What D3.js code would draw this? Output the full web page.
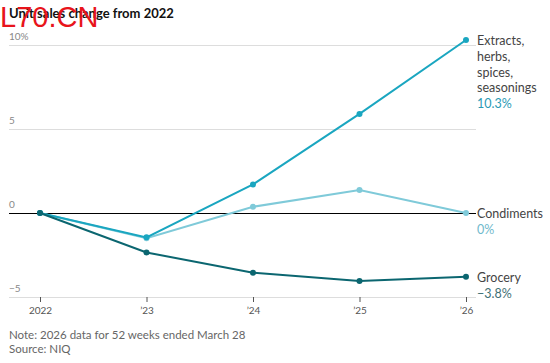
<!DOCTYPE html>
<html><head><meta charset="utf-8">
<script src="https://cdn.jsdelivr.net/npm/d3@7"></script>
<style>body{margin:0;background:#fff}svg{display:block}text{font-family:Lato,"Open Sans",sans-serif}</style>
</head><body><svg id="c" width="550" height="363"></svg>
<script>
const years = [2022, 2023, 2024, 2025, 2026];
const xTickLabels = ["2022", "\u201923", "\u201924", "\u201925", "\u201926"];
const yTicks = [10, 5, 0, -5];
const yTickLabels = ["10%", "5", "0", "\u22125"];
const extracts = [0, -1.45, 1.7, 5.9, 10.3];
const condiments = [0, -1.5, 0.37, 1.37, 0];
const grocery = [0, -2.35, -3.55, -4.05, -3.8];
const seriesNames = [["Extracts,", "herbs,", "spices,", "seasonings"], ["Condiments"], ["Grocery"]];
const seriesValueLabels = ["10.3%", "0%", "\u22123.8%"];

const colors = ["#1aa6c0", "#7fcad9", "#0b6670"];
const valueColors = ["#2a9ab5", "#6fb9cc", "#3f6f75"];
const svg = d3.select("#c");
const x = d3.scalePoint().domain(years).range([40, 466]);
const y = d3.scaleLinear().domain([-5, 10]).range([297, 45]);

// gridlines
svg.append("g").selectAll("line").data(yTicks.filter(d => d !== 0)).join("line")
  .attr("x1", 9).attr("x2", 476).attr("y1", d => y(d) + 0.5).attr("y2", d => y(d) + 0.5)
  .attr("stroke", "#ddd").attr("stroke-width", 1);
svg.append("g").selectAll("text").data(yTicks).join("text")
  .attr("x", 9).attr("y", d => y(d) - 5)
  .attr("font-size", 10).attr("fill", "#888")
  .text((d, i) => yTickLabels[i]);

// x axis
const xAxis = d3.axisBottom(x).tickSize(5).tickFormat((d, i) => xTickLabels[i]);
const gx = svg.append("g").attr("transform", `translate(0,${y(-5)})`).call(xAxis);
gx.select(".domain").remove();
gx.selectAll(".tick line").attr("stroke", "#555");
gx.selectAll(".tick text").attr("font-size", 10).attr("fill", "#555").attr("dy", "0.9em")
  .style("font-family", "Lato, sans-serif");

// zero line
svg.append("line").attr("x1", 9).attr("x2", 476).attr("y1", y(0) + 0.5).attr("y2", y(0) + 0.5)
  .attr("stroke", "#000").attr("stroke-width", 1).attr("shape-rendering", "crispEdges");

const allSeries = [extracts, condiments, grocery];
const line = d3.line().x((d, i) => x(years[i])).y(d => y(d));
[1, 0, 2].forEach(k => {
  const vals = allSeries[k];
  svg.append("path").datum(vals).attr("d", line).attr("fill", "none")
    .attr("stroke", colors[k]).attr("stroke-width", 2);
  svg.append("g").selectAll("circle").data(vals).join("circle")
    .attr("cx", (d, i) => x(years[i])).attr("cy", d => y(d)).attr("r", 3)
    .attr("fill", colors[k]);
});

// end labels
const labelTops = [41, 214, 278];
seriesNames.forEach((names, k) => {
  const g = svg.append("g");
  names.forEach((n, j) => {
    g.append("text").attr("x", 477).attr("y", labelTops[k] + j * 15.6).attr("dy", "0.35em")
      .attr("font-size", 12.5).attr("fill", "#444").text(n);
  });
  g.append("text").attr("x", 477).attr("y", labelTops[k] + names.length * 15.6).attr("dy", "0.35em")
    .attr("font-size", 12.5).attr("fill", valueColors[k]).text(seriesValueLabels[k]);
});

// title
svg.append("text").attr("x", 9).attr("y", 18).attr("font-size", 13).attr("font-weight", "bold")
  .attr("fill", "#111").text("Unit sales change from 2022");
// footnotes
svg.append("text").attr("x", 9).attr("y", 339).attr("font-size", 11.5).attr("fill", "#666")
  .text("Note: 2026 data for 52 weeks ended March 28");
svg.append("text").attr("x", 9).attr("y", 353).attr("font-size", 11.5).attr("fill", "#666")
  .text("Source: NIQ");
// watermark
svg.append("text").attr("x", 0).attr("y", 27).attr("font-size", 29)
  .style("font-family", "'Liberation Sans', Arial, sans-serif")
  .attr("fill", "#e8141b").text("L70.CN");
</script></body></html>
